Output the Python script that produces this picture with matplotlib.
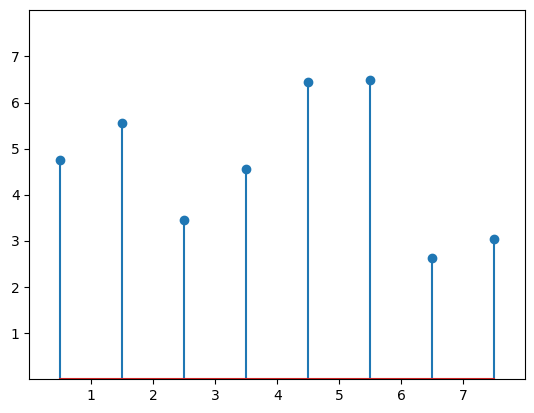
import numpy as np
import matplotlib
matplotlib.use("Agg")
import matplotlib.pyplot as plt

# data
x = 0.5 + np.arange(8)
y = [4.75, 5.55, 3.45, 4.56, 6.45, 6.48, 2.62, 3.04]
ticks = [1, 2, 3, 4, 5, 6, 7]

fig = plt.figure(figsize=(5.34, 4.13), dpi=100)
ax = fig.add_axes([0.0549, 0.0816, 0.9288, 0.8935])
ax.stem(x, y)  # stem plot
ax.set(xlim=(0, 8), xticks=ticks, ylim=(0, 8), yticks=ticks)
fig.savefig("out.png")
